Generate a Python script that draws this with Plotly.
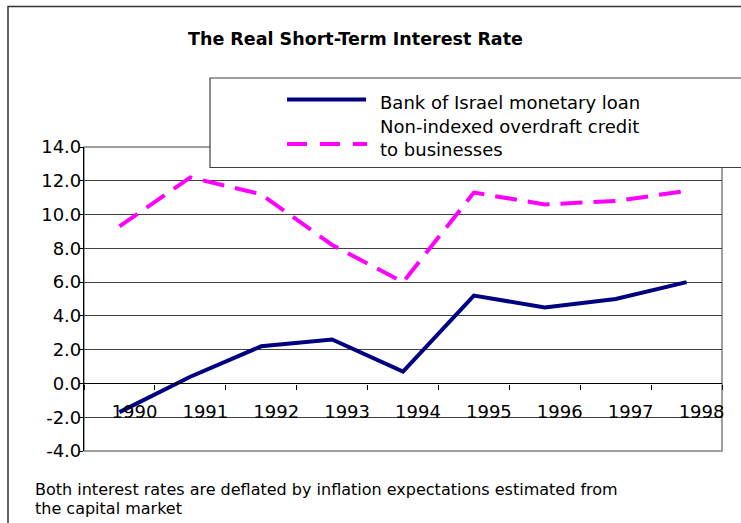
import plotly.graph_objects as go

years = ["1990", "1991", "1992", "1993", "1994", "1995", "1996", "1997", "1998"]
boi_loan = [-1.7, 0.4, 2.2, 2.6, 0.7, 5.2, 4.5, 5.0, 6.0]
overdraft = [9.3, 12.2, 11.2, 8.2, 6.0, 11.3, 10.6, 10.8, 11.4]
y_ticks = [-4, -2, 0, 2, 4, 6, 8, 10, 12, 14]
y_tick_labels = ["-4.0", "-2.0", "0.0", "2.0", "4.0", "6.0", "8.0", "10.0", "12.0", "14.0"]

title_text = "The Real Short-Term Interest Rate"
legend_1 = "Bank of Israel monetary loan"
legend_2 = "Non-indexed overdraft credit<br>to businesses"
note_1 = "Both interest rates are deflated by inflation expectations estimated from"
note_2 = "the capital market"

W, H = 741, 523
ML, MR, MT, MB = 84, 19, 147, 72
PW, PH = W - ML - MR, H - MT - MB
YMIN, YMAX = -4, 14

FONT = "DejaVu Sans"
NAVY = "#000080"
MAGENTA = "#FF00FF"


def px(x):
    return (x - ML) / PW


def py(y):
    return (H - MB - y) / PH


fig = go.Figure()
fig.add_trace(go.Scatter(x=years, y=boi_loan, mode="lines", name=legend_1,
                         line=dict(color=NAVY, width=4)))
fig.add_trace(go.Scatter(x=years, y=overdraft, mode="lines", name="Non-indexed overdraft credit to businesses",
                         line=dict(color=MAGENTA, width=4, dash="22px,11px")))

shapes = [
    # outer chart border
    dict(type="rect", xref="paper", yref="paper", x0=px(8), x1=px(748), y0=py(530), y1=py(6.5),
         line=dict(color="#333333", width=1.5), layer="below"),
    # plot area border
    dict(type="rect", xref="paper", yref="paper", x0=0, x1=1, y0=0, y1=1,
         line=dict(color="#808080", width=1.5), layer="below"),
    # legend box
    dict(type="rect", xref="paper", yref="paper", x0=px(210), x1=px(748), y0=py(167.5), y1=py(78),
         line=dict(color="#404040", width=1.2), fillcolor="white", layer="above"),
    # legend samples
    dict(type="line", xref="paper", yref="paper", x0=px(287), x1=px(366), y0=py(99.5), y1=py(99.5),
         line=dict(color=NAVY, width=4), layer="above"),
    dict(type="line", xref="paper", yref="paper", x0=px(287), x1=px(367), y0=py(144), y1=py(144),
         line=dict(color=MAGENTA, width=4, dash="20px,13px"), layer="above"),
]

annotations = [
    dict(text="<b>" + title_text + "</b>", xref="paper", yref="paper", x=px(355), y=py(39),
         xanchor="center", yanchor="middle", showarrow=False,
         font=dict(family=FONT, size=17.5, color="black")),
    dict(text=legend_1, xref="paper", yref="paper", x=px(378), y=py(102),
         xanchor="left", yanchor="middle", showarrow=False,
         font=dict(family=FONT, size=18, color="black")),
    dict(text=legend_2, xref="paper", yref="paper", x=px(378), y=py(138),
         xanchor="left", yanchor="middle", showarrow=False, align="left",
         font=dict(family=FONT, size=18, color="black")),
    dict(text=note_1, xref="paper", yref="paper", x=px(33), y=py(489),
         xanchor="left", yanchor="middle", showarrow=False,
         font=dict(family=FONT, size=16, color="black")),
    dict(text=note_2, xref="paper", yref="paper", x=px(33), y=py(508),
         xanchor="left", yanchor="middle", showarrow=False,
         font=dict(family=FONT, size=16, color="black")),
]

fig.update_layout(
    width=W, height=H,
    margin=dict(l=ML, r=MR, t=MT, b=MB, pad=0),
    paper_bgcolor="white", plot_bgcolor="white",
    showlegend=False,
    font=dict(family=FONT, size=18, color="black"),
    shapes=shapes,
    annotations=annotations,
    xaxis=dict(
        type="category", categoryorder="array", categoryarray=years,
        range=[-0.5, len(years) - 0.5],
        anchor="free", position=(0 - YMIN) / (YMAX - YMIN),
        showline=True, linecolor="black", linewidth=1.2,
        showgrid=False, zeroline=False,
        ticks="outside", tickson="boundaries", ticklen=5, tickcolor="black", tickwidth=1,
        ticklabelshift=15, ticklabelstandoff=12,
        tickfont=dict(family=FONT, size=18, color="black"),
        fixedrange=True,
    ),
    yaxis=dict(
        range=[YMIN, YMAX], domain=[0, 1],
        tickmode="array", tickvals=y_ticks, ticktext=y_tick_labels,
        showline=True, linecolor="black", linewidth=1.2,
        showgrid=True, gridcolor="#404040", gridwidth=1,
        zeroline=False,
        ticks="outside", ticklen=4, tickcolor="black",
        ticklabelstandoff=-6,
        tickfont=dict(family=FONT, size=18, color="black"),
        fixedrange=True,
    ),
)

fig.write_html(
    "out.html",
    config={"displayModeBar": False},
    post_script="document.body.style.margin='0px';document.body.style.padding='0px';",
)
